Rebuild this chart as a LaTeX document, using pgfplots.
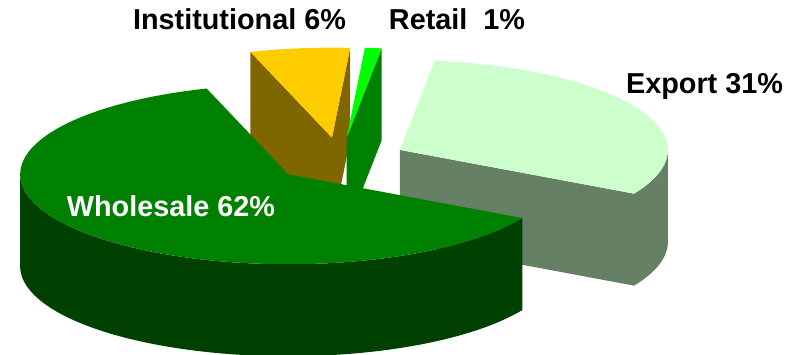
\documentclass[border=0pt]{standalone}
\usepackage{pgfplots}
\pgfplotsset{compat=1.18}
\usepackage{pgfplotstable}
\usepackage{fontspec}
\setmainfont{Liberation Sans}
\definecolor{wtop}{HTML}{008000}
\definecolor{wside}{HTML}{004000}
\definecolor{etop}{HTML}{CCFFCC}
\definecolor{eside}{HTML}{668066}
\definecolor{itop}{HTML}{FFCC00}
\definecolor{iside}{HTML}{806600}
\definecolor{rtop}{HTML}{00FF00}
\definecolor{rside}{HTML}{008000}
\pgfplotstableread{
label value
Export 31
Wholesale 62
Institutional 6
Retail 1
}\piedata
% geometry of the 3D pie (pixel units)
\def\cx{340}\def\cy{160}\def\ra{268}\def\rb{90}\def\dep{92}\def\ex{0.25}
\newcommand{\topface}[5]{% colour, ox, oy, t1, t2
  \addplot[draw=none, fill=#1, variable=\t, domain=#4:#5, samples=90]
    ({#2+\ra*sin(\t)},{#3-\rb*cos(\t)}) -- (axis cs:#2,#3) -- cycle;}
\newcommand{\sideface}[5]{% colour, ox, oy, t1, t2
  \addplot[draw=none, fill=#1, variable=\t, domain=0:3, samples=301]
    ({#2+\ra*sin(#4+(#5-#4)*(min(\t,1)-max(\t-2,0)))},
     {#3-\rb*cos(#4+(#5-#4)*(min(\t,1)-max(\t-2,0)))+\dep*min(max(\t-1,0),1)}) -- cycle;}
\newcommand{\cutface}[4]{% colour, ox, oy, theta
  \addplot[draw=none, fill=#1, variable=\t, samples at={0,1,2,3}]
    ({#2+(min(\t,1)-max(\t-2,0))*\ra*sin(#4)},
     {#3-(min(\t,1)-max(\t-2,0))*\rb*cos(#4)+\dep*min(max(\t-1,0),1)}) -- cycle;}
\begin{document}
\begin{tikzpicture}
\pgfplotstablegetelem{0}{value}\of\piedata \pgfmathsetmacro\vE{\pgfplotsretval}
\pgfplotstablegetelem{1}{value}\of\piedata \pgfmathsetmacro\vW{\pgfplotsretval}
\pgfplotstablegetelem{2}{value}\of\piedata \pgfmathsetmacro\vI{\pgfplotsretval}
\pgfplotstablegetelem{3}{value}\of\piedata \pgfmathsetmacro\vR{\pgfplotsretval}
\pgfmathsetmacro\aEs{7.5}
\pgfmathsetmacro\aEe{\aEs+3.6*\vE}
\pgfmathsetmacro\aWe{\aEe+3.6*\vW}
\pgfmathsetmacro\aIe{\aWe+3.6*\vI}
\pgfmathsetmacro\aRe{\aIe+3.6*\vR}
\pgfmathsetmacro\oxE{\cx+\ex*\ra*sin((\aEs+\aEe)/2)}
\pgfmathsetmacro\oyE{\cy-\ex*\rb*cos((\aEs+\aEe)/2)}
\pgfmathsetmacro\oxW{\cx+\ex*\ra*sin((\aEe+\aWe)/2)}
\pgfmathsetmacro\oyW{\cy-\ex*\rb*cos((\aEe+\aWe)/2)}
\pgfmathsetmacro\oxI{\cx+\ex*\ra*sin((\aWe+\aIe)/2)}
\pgfmathsetmacro\oyI{\cy-\ex*\rb*cos((\aWe+\aIe)/2)}
\pgfmathsetmacro\oxR{\cx+\ex*\ra*sin((\aIe+\aRe)/2)}
\pgfmathsetmacro\oyR{\cy-\ex*\rb*cos((\aIe+\aRe)/2)}
\begin{axis}[scale only axis, width=400.5bp, height=177.5bp,
  xmin=0, xmax=801, ymin=0, ymax=355, y dir=reverse,
  hide axis, clip=false]
% Institutional
\cutface{iside}{\oxI}{\oyI}{\aWe}
\cutface{iside}{\oxI}{\oyI}{\aIe}
\topface{itop}{\oxI}{\oyI}{\aWe}{\aIe}
% Retail
\cutface{rside}{\oxR}{\oyR}{\aRe}
\topface{rtop}{\oxR}{\oyR}{\aIe}{\aRe}
% Export
\sideface{eside}{\oxE}{\oyE}{90}{\aEe}
\cutface{eside}{\oxE}{\oyE}{\aEe}
\topface{etop}{\oxE}{\oyE}{\aEs}{\aEe}
% Wholesale
\sideface{wside}{\oxW}{\oyW}{\aEe}{270}
\topface{wtop}{\oxW}{\oyW}{\aEe}{\aWe}
% labels
\node[anchor=base, font=\fontsize{14.4bp}{17bp}\selectfont\bfseries] at (axis cs:239.5,30) {Institutional 6\%};
\node[anchor=base, font=\fontsize{14.4bp}{17bp}\selectfont\bfseries] at (axis cs:457,30) {Retail\ \ 1\%};
\node[anchor=base, font=\fontsize{14.4bp}{17bp}\selectfont\bfseries] at (axis cs:704.5,93.5) {Export 31\%};
\node[anchor=base, font=\fontsize{14.4bp}{17bp}\selectfont\bfseries, text=white] at (axis cs:171,216) {Wholesale 62\%};
\end{axis}
\pgfresetboundingbox
\path[use as bounding box] (current axis.south west) rectangle (current axis.north east);
\end{tikzpicture}
\end{document}
